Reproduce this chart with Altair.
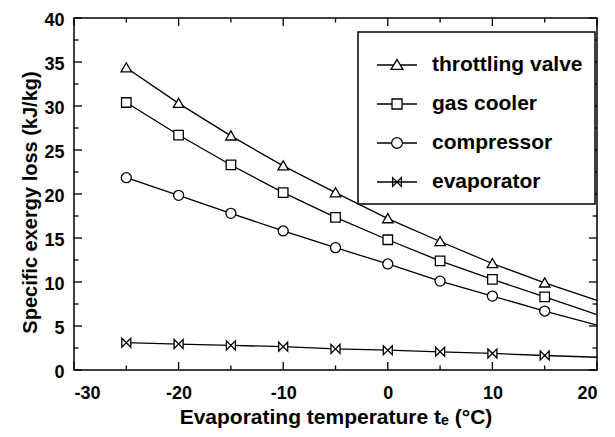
import altair as alt
import pandas as pd

temps = [-25, -20, -15, -10, -5, 0, 5, 10, 15, 20]
throttling = [34.35, 30.3, 26.6, 23.2, 20.15, 17.2, 14.6, 12.1, 9.9, 7.9]
gas_cooler = [30.4, 26.7, 23.3, 20.15, 17.35, 14.8, 12.4, 10.3, 8.3, 6.3]
compressor = [21.85, 19.85, 17.8, 15.8, 13.9, 12.05, 10.1, 8.4, 6.7, 5.1]
evaporator = [3.1, 2.95, 2.8, 2.65, 2.4, 2.25, 2.07, 1.88, 1.65, 1.45]
series_names = ["throttling valve", "gas cooler", "compressor", "evaporator"]
marker_max_temp = 15

x_major = [-30, -20, -10, 0, 10, 20]
x_minor = [-25, -15, -5, 5, 15]
y_major = [0, 5, 10, 15, 20, 25, 30, 35, 40]
y_minor = [2.5, 7.5, 12.5, 17.5, 22.5, 27.5, 32.5, 37.5]

rows = []
for name, vals in zip(series_names, [throttling, gas_cooler, compressor, evaporator]):
    for t, v in zip(temps, vals):
        rows.append({"t": t, "v": v, "series": name})
df = pd.DataFrame(rows)
df_pts = df[df["t"] <= marker_max_temp]

W, H = 523, 352
FONT = "Liberation Sans"
MAJ, MIN = 8, 4.5

marker_paths = [
    "M0,-1L1.05,0.82L-1.05,0.82Z",
    "M-0.95,-0.95L0.95,-0.95L0.95,0.95L-0.95,0.95Z",
    "M1,0A1,1,0,1,1,-1,0A1,1,0,1,1,1,0Z",
    "M-0.9,-0.9L0.9,0.9L0.9,-0.9L-0.9,0.9Z",
]
legend_paths = [
    "M-1,0L-0.16,0M0.16,0L1,0M0,-0.27L0.3,0.22L-0.3,0.22Z",
    "M-1,0L-0.25,0M0.25,0L1,0M-0.25,-0.25L0.25,-0.25L0.25,0.25L-0.25,0.25Z",
    "M-1,0L-0.27,0M0.27,0L1,0M0.27,0A0.27,0.27,0,1,1,-0.27,0A0.27,0.27,0,1,1,0.27,0Z",
    "M-1,0L1,0M-0.22,-0.22L0.22,0.22L0.22,-0.22L-0.22,0.22Z",
]

xscale = alt.Scale(domain=[-30, 20], nice=False, zero=False)
yscale = alt.Scale(domain=[0, 40], nice=False)

xaxis = alt.Axis(values=x_major, ticks=False, domain=False, grid=False,
                 labelExpr="'' + datum.value", labelPadding=14, labelFontSize=18,
                 title="Evaporating temperature tₑ (°C)", titlePadding=4, titleFontSize=21)
yaxis = alt.Axis(values=y_major, ticks=False, domain=False, grid=False,
                 labelPadding=10, labelFontSize=18, labelOffset=2,
                 title="Specific exergy loss  (kJ/kg)", titlePadding=3, titleFontSize=20,
                 titleY=H / 2 + 8)

lines = alt.Chart(df).mark_line(color="black", strokeWidth=1.3).encode(
    x=alt.X("t:Q", scale=xscale, axis=xaxis),
    y=alt.Y("v:Q", scale=yscale, axis=yaxis),
    detail="series:N",
)

pts = alt.Chart(df_pts).mark_point(filled=True, fill="white", stroke="black",
                                   strokeWidth=1.3, size=100, opacity=1).encode(
    x=alt.X("t:Q", scale=xscale),
    y=alt.Y("v:Q", scale=yscale),
    shape=alt.Shape("series:N", scale=alt.Scale(domain=series_names, range=marker_paths), legend=None),
)

leg = alt.Chart(df_pts).mark_point(opacity=0).encode(
    x=alt.X("t:Q", scale=xscale),
    y=alt.Y("v:Q", scale=yscale),
    shape=alt.Shape("series:N", scale=alt.Scale(domain=series_names, range=legend_paths),
                    legend=alt.Legend(title=None, orient="none", legendX=284, legendY=14,
                                      symbolSize=1600, symbolOpacity=1, symbolOffset=6,
                                      symbolFillColor="white", symbolStrokeColor="black",
                                      symbolStrokeWidth=1.3, labelOffset=14,
                                      labelFont=FONT, labelFontSize=21, labelFontWeight="bold",
                                      labelColor="black", padding=12, rowPadding=8,
                                      strokeColor="black", fillColor="white")),
)

def tick_layer(vals, orient, length):
    d = pd.DataFrame({"v": vals})
    m = alt.Chart(d).mark_rule(color="black", strokeWidth=1.3)
    if orient == "bottom":
        return m.encode(x=alt.X("v:Q", scale=xscale), y=alt.value(H), y2=alt.value(H - length))
    if orient == "top":
        return m.encode(x=alt.X("v:Q", scale=xscale), y=alt.value(0), y2=alt.value(length))
    if orient == "left":
        return m.encode(y=alt.Y("v:Q", scale=yscale), x=alt.value(0), x2=alt.value(length))
    return m.encode(y=alt.Y("v:Q", scale=yscale), x=alt.value(W), x2=alt.value(W - length))

ticks = [
    tick_layer(x_major, "bottom", MAJ), tick_layer(x_minor, "bottom", MIN),
    tick_layer(x_major, "top", MAJ), tick_layer(x_minor, "top", MIN),
    tick_layer(y_major, "left", MAJ), tick_layer(y_minor, "left", MIN),
    tick_layer(y_major, "right", MAJ), tick_layer(y_minor, "right", MIN),
]

chart = alt.layer(lines, pts, leg, *ticks).resolve_scale(shape="independent").properties(
    width=W, height=H,
    autosize=alt.AutoSizeParams(type="none"),
    padding={"left": 66, "top": 10, "right": 10, "bottom": 64},
).configure_view(stroke="black", strokeWidth=1.5).configure_axis(
    labelFont=FONT, labelFontWeight="bold", labelColor="black",
    titleFont=FONT, titleFontWeight="bold", titleColor="black",
).configure_legend(strokeWidth=1.5)

chart.save("out.html", embed_options={"renderer": "svg", "actions": False})
